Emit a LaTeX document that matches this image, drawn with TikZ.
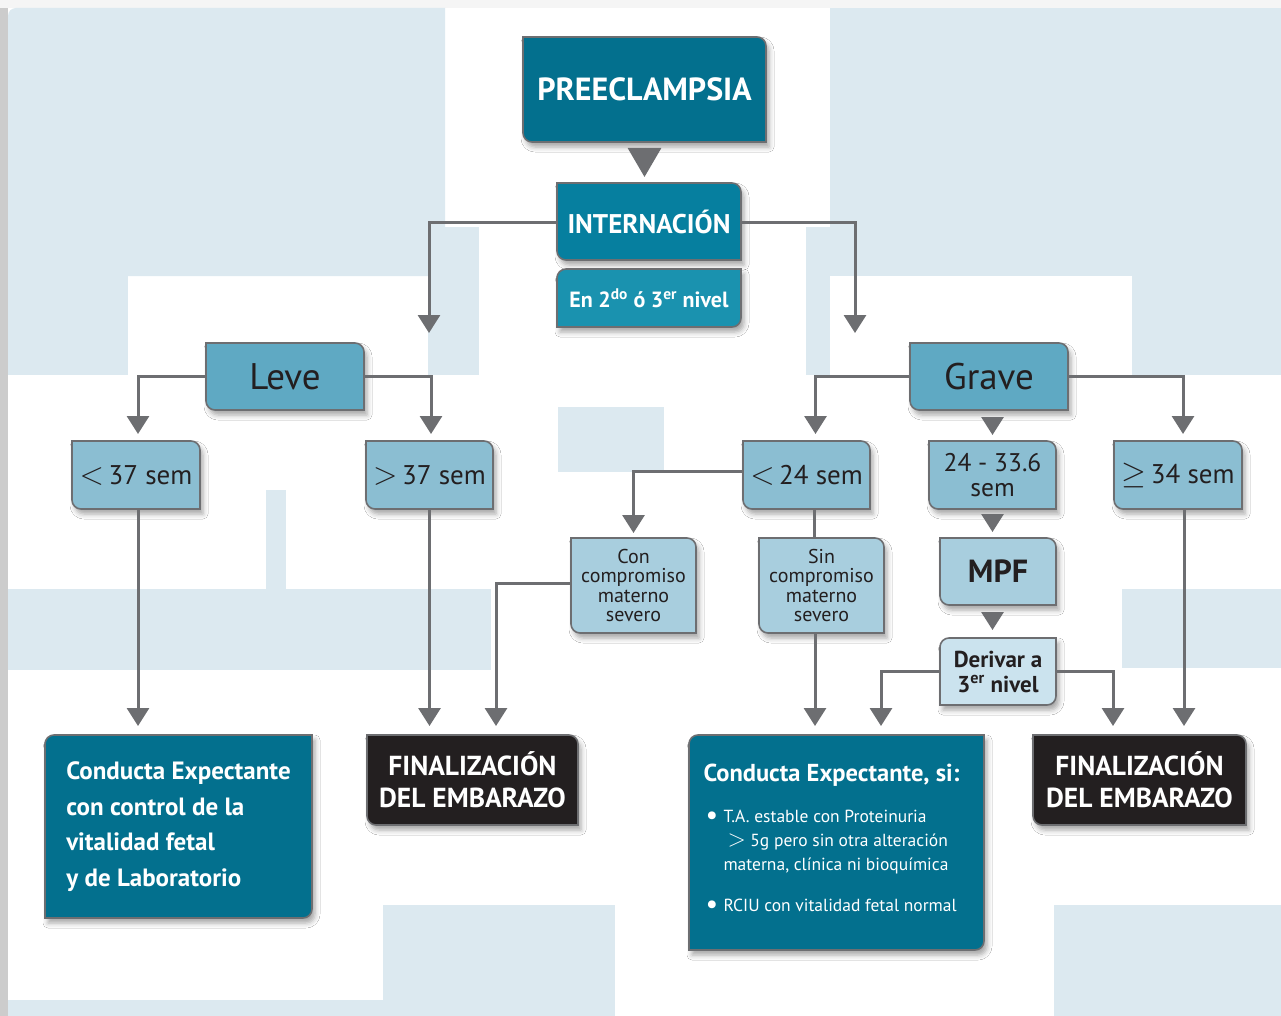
\RequirePackage{fix-cm}
\documentclass[tikz,border=0pt]{standalone}
\usepackage{fontspec}
\setmainfont{PT Sans}
\usetikzlibrary{arrows.meta,calc,shadows.blur}
\pgfdeclarelayer{bg}
\pgfsetlayers{bg,main}
\definecolor{cpre}{HTML}{03708E}
\definecolor{cint}{HTML}{067F9F}
\definecolor{cniv}{HTML}{1A92AF}
\definecolor{cmed}{HTML}{5FA9C3}
\definecolor{crow}{HTML}{8BBED2}
\definecolor{clight}{HTML}{A8CEDE}
\definecolor{clightest}{HTML}{CBE3EE}
\definecolor{cblack}{HTML}{231F20}
\definecolor{cedge}{HTML}{6D6E71}
\definecolor{cbg}{HTML}{DCE9F0}
\definecolor{ctxt}{HTML}{231F20}
\newlength\boxr
\setlength\boxr{9pt}
\newcommand\bigsym[1]{{\fontsize{32}{32}\selectfont$#1$}}
\newcommand\bigdot{\makebox[20pt][l]{\hspace{2pt}\raisebox{-2pt}{\fontsize{28}{28}\selectfont\textbullet}}}
\tikzset{
  box/.style={inner sep=0pt, outer sep=0pt, align=center, text=ctxt},
  boxedge/.style={draw=cedge, line width=1.6pt,
    blur shadow={shadow xshift=3pt, shadow yshift=-5pt, shadow blur radius=5pt, shadow opacity=35}},
  conn/.style={draw=cedge, line width=3pt, -{Triangle[length=18pt,width=22pt]}},
  plainline/.style={draw=cedge, line width=3pt},
  tipmark/.style={draw=cedge, line width=3pt, -{Triangle[length=18pt,width=22pt]}},
  bigtip/.style={draw=cedge, line width=3pt, -{Triangle[length=29pt,width=33pt]}},
}
\newcommand\shTR[2]{%
  \path[boxedge, fill=#2] (#1.north west) -- ([xshift=-\boxr]#1.north east)
    arc[start angle=90, end angle=0, radius=\boxr] -- (#1.south east)
    -- ([xshift=\boxr]#1.south west) arc[start angle=270, end angle=180, radius=\boxr] -- cycle;}
\newcommand\shTL[2]{%
  \path[boxedge, fill=#2] ([xshift=\boxr]#1.north west) -- (#1.north east)
    -- ([yshift=\boxr]#1.south east) arc[start angle=0, end angle=-90, radius=\boxr]
    -- (#1.south west) -- ([yshift=-\boxr]#1.north west) arc[start angle=180, end angle=90, radius=\boxr] -- cycle;}
\begin{document}
\begin{tikzpicture}[x=1pt,y=1pt]
\useasboundingbox (0,0) rectangle (1281,-1016);
\begin{pgfonlayer}{bg}
  \fill[white] (0,0) rectangle (1281,-1016);
  \fill[black!4] (0,0) rectangle (1281,-8);
  \fill[black!20] (0,-8) rectangle (8,-1016);
  % light blue backdrop
  \fill[cbg] (8,-276) -- (8,-16) arc[start angle=180, end angle=90, radius=8] -- (445,-8) -- (445,-276) -- cycle;
  \fill[cbg] (8,-276) rectangle (128,-375);
  \fill[cbg] (428,-227) rectangle (479,-375);
  \fill[cbg] (830,-8) rectangle (1281,-276);
  \fill[cbg] (1132,-276) rectangle (1281,-375);
  \fill[cbg] (806,-227) rectangle (830,-375);
  \fill[cbg] (558,-407) rectangle (664,-472);
  \fill[cbg] (266,-490) rectangle (286,-589);
  \fill[cbg] (8,-589) rectangle (491,-670);
  \fill[cbg] (1122,-589) rectangle (1281,-668);
  \fill[cbg] (383,-905) rectangle (615,-1016);
  \fill[cbg] (8,-1000) rectangle (383,-1016);
  \fill[cbg] (1054,-905) rectangle (1281,-1016);
\end{pgfonlayer}

% nodes
\node[box, text=white, font=\bfseries\fontsize{32}{36}\selectfont, minimum width=243, minimum height=105] (pre) at (644.5,-89.5) {PREECLAMPSIA};
\node[box, text=white, font=\bfseries\fontsize{27}{30}\selectfont, minimum width=184, minimum height=77] (intern) at (649,-221.5) {INTERNACIÓN};
\node[box, text=white, font=\bfseries\fontsize{22}{24}\selectfont, minimum width=184, minimum height=58] (nivel) at (649,-298) {En 2\textsuperscript{do} ó 3\textsuperscript{er} nivel};
\node[box, font=\fontsize{37}{40}\selectfont, minimum width=158, minimum height=67] (leve) at (285,-376.5) {Leve};
\node[box, font=\fontsize{37}{40}\selectfont, minimum width=158, minimum height=67] (grave) at (989,-376.5) {Grave};
\node[box, font=\fontsize{27}{30}\selectfont, minimum width=128, minimum height=68] (lt37) at (136,-475) {\bigsym{<}\,37 sem};
\node[box, font=\fontsize{27}{30}\selectfont, minimum width=127, minimum height=68] (gt37) at (429.5,-475) {\bigsym{>}\,37 sem};
\node[box, font=\fontsize{27}{30}\selectfont, minimum width=127, minimum height=68] (lt24) at (806.5,-475) {\bigsym{<}\,24 sem};
\node[box, font=\fontsize{25.5}{25}\selectfont, minimum width=127, minimum height=68] (mid) at (992.5,-475) {24 - 33.6\\sem};
\node[box, font=\fontsize{27}{30}\selectfont, minimum width=128, minimum height=68] (ge34) at (1178,-475) {\bigsym{\geq}\,34 sem};
\node[box, font=\fontsize{20}{19.5}\selectfont, minimum width=125, minimum height=95] (con) at (633.5,-585.5) {Con\\compromiso\\materno\\severo};
\node[box, font=\fontsize{20}{19.5}\selectfont, minimum width=125, minimum height=95] (sin) at (821.5,-585.5) {Sin\\compromiso\\materno\\severo};
\node[box, font=\bfseries\fontsize{32}{36}\selectfont, minimum width=116, minimum height=67] (mpf) at (998,-571.5) {MPF};
\node[box, font=\bfseries\fontsize{23}{25}\selectfont, minimum width=116, minimum height=67] (der) at (998,-671.5) {Derivar a\\3\textsuperscript{er} nivel};
\node[box, text=white, align=left, font=\bfseries\fontsize{25}{35.5}\selectfont, minimum width=267, minimum height=183] (ce1) at (178.5,-826.5) {Conducta Expectante\\con control de la\\vitalidad fetal\\y de Laboratorio};
\node[box, text=white, font=\bfseries\fontsize{27.5}{32}\selectfont, minimum width=211, minimum height=90] (fin1) at (472.5,-780) {FINALIZACIÓN\\DEL EMBARAZO};
\node[box, text=white, minimum width=295, minimum height=215] (ce2) at (836.5,-842.5) {\parbox{266pt}{\raggedright
  {\bfseries\fontsize{24.5}{26}\selectfont Conducta Expectante, si:\par}
  \vspace{17pt}
  \fontsize{17.5}{24}\selectfont
  \bigdot T.A. estable con Proteinuria\\
  \hspace{24pt}{\fontsize{24}{24}\selectfont$>$} 5g pero sin otra alteración\\
  \hspace{20pt}materna, clínica ni bioquímica\par
  \vspace{17pt}
  \bigdot RCIU con vitalidad fetal normal\par
  \vspace{7pt}}};
\node[box, text=white, font=\bfseries\fontsize{27.5}{32}\selectfont, minimum width=213, minimum height=90] (fin2) at (1139.5,-780) {FINALIZACIÓN\\DEL EMBARAZO};

% box shapes behind the texts
\begin{pgfonlayer}{bg}
  \shTR{pre}{cpre}
  \shTR{intern}{cint}
  \shTL{nivel}{cniv}
  \shTR{leve}{cmed}
  \shTR{grave}{cmed}
  \shTR{lt37}{crow}
  \shTR{gt37}{crow}
  \shTR{lt24}{crow}
  \shTR{mid}{crow}
  \shTR{ge34}{crow}
  \shTR{con}{clight}
  \shTR{sin}{clight}
  \shTR{mpf}{clight}
  \shTL{der}{clightest}
  \shTL{ce1}{cpre}
  \shTR{fin1}{cblack}
  \shTL{ce2}{cpre}
  \shTR{fin2}{cblack}
\end{pgfonlayer}

% connectors
\draw[bigtip, shorten <=6pt, shorten >=6pt] (pre.south) -- (pre.south |- intern.north);
\coordinate (aL) at (429,-333);
\coordinate (aR) at (855,-333);
\draw[conn] ([yshift=-1.5pt]intern.west) -| (aL);
\draw[conn] ([yshift=-1.5pt]intern.east) -| (aR);
\draw[conn] (leve.west) -| ($(lt37.north)+(2,7)$);
\draw[conn] (leve.east) -| ($(gt37.north)+(1.5,7)$);
\draw[conn] (grave.west) -| ($(lt24.north)+(9,7)$);
\draw[conn] (grave.east) -| ($(ge34.north)+(5,7)$);
\draw[tipmark, shorten <=7pt, shorten >=6pt] (grave.south -| mid.north) -- (mid.north);
\draw[tipmark, shorten <=5pt, shorten >=6pt] (mid.south) -- (mid.south |- mpf.north);
\draw[tipmark, shorten <=7pt, shorten >=8pt] (mpf.south -| mid.south) -- (der.north -| mid.south);
\draw[conn] ([xshift=2pt]lt37.south) -- ($(lt37.south |- ce1.north)+(2,9)$);
\draw[conn] (gt37.south) -- ($(gt37.south |- fin1.north)+(0,9)$);
\draw[conn] ([yshift=4pt]lt24.west) -| ($(con.north)+(0,5)$);
\draw[plainline] ([xshift=8pt]lt24.south) -- ($(lt24.south |- sin.north)+(8,0)$);
\draw[conn] ([yshift=2.5pt]con.west) -| ($(fin1.north)+(23.5,9)$);
\draw[conn] ([xshift=-6.5pt]sin.south) -- ($(sin.south |- ce2.north)+(-6.5,9)$);
\draw[conn] (der.west) -| ($(ce2.north)+(44.5,9)$);
\draw[conn] (der.east) -| ($(fin2.north)+(-26.5,9)$);
\draw[conn] ([xshift=6pt]ge34.south) -- ($(ge34.south |- fin2.north)+(6,9)$);
\end{tikzpicture}
\end{document}
